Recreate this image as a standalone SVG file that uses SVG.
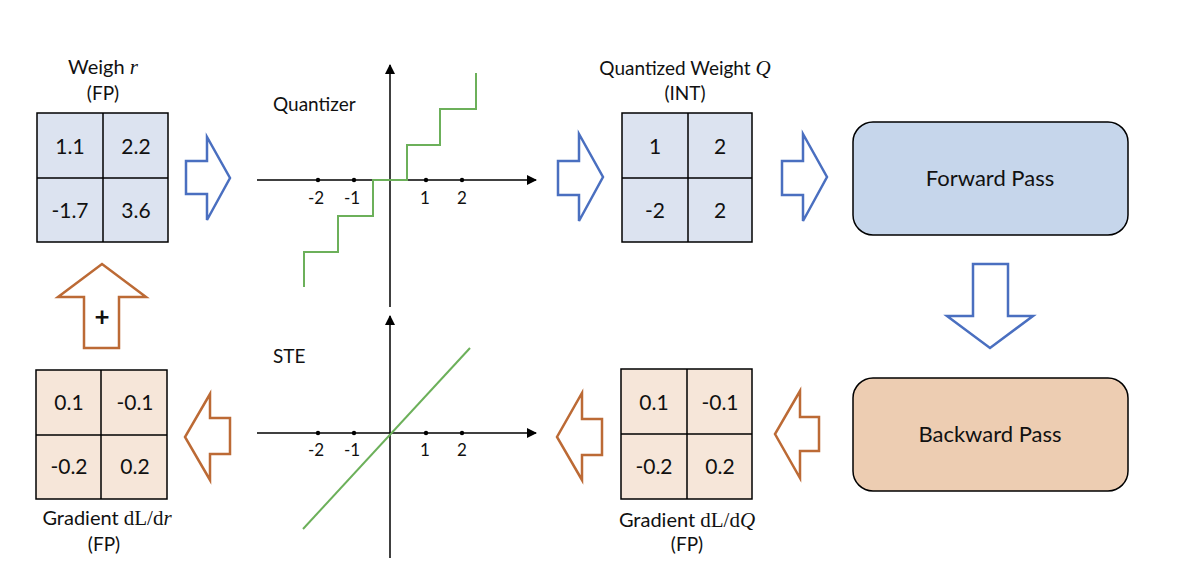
<svg xmlns="http://www.w3.org/2000/svg" width="1184" height="568" viewBox="0 0 1184 568">
<defs>
<marker id="ah" viewBox="0 0 10 10" refX="9" refY="5" markerWidth="10" markerHeight="10" markerUnits="userSpaceOnUse" orient="auto">
<path d="M0,0 L10,5 L0,10 Z" fill="#000"/>
</marker>
</defs>
<style>
text{font-family:Lato,"Liberation Sans",Arial,sans-serif;fill:#111;}
.t{font-size:19px;text-anchor:middle;}
.tg{font-size:20px;text-anchor:middle;}
.c{font-size:21px;text-anchor:middle;}
.ax{font-size:17px;text-anchor:middle;}
.lbl{font-size:19px;}
.box{font-size:22px;text-anchor:middle;}
.m{font-family:"Liberation Serif","DejaVu Serif",serif;font-size:21px;}
.i{font-family:"Liberation Serif","DejaVu Serif",serif;font-style:italic;font-size:21px;}
.blue{fill:#dce3f0;stroke:#000;stroke-width:1.5;}
.peach{fill:#f6e6d9;stroke:#000;stroke-width:1.5;}
.grid{stroke:#000;stroke-width:1.5;fill:none;}
.barr{fill:#fff;stroke:#4a6fc0;stroke-width:2.5;stroke-linejoin:miter;}
.oarr{fill:#fff;stroke:#bc6a35;stroke-width:2.5;stroke-linejoin:miter;}
.axis{stroke:#000;stroke-width:1.5;fill:none;}
.g{stroke:#6cb05a;stroke-width:2;fill:none;}
.dot{fill:#000;}
</style>
<rect width="1184" height="568" fill="#fff"/>

<g id="weight-r">
<text class="tg" x="103" y="74">Weigh <tspan class="i">r</tspan></text>
<text class="t" x="103" y="100">(FP)</text>
<rect class="blue" x="37" y="113" width="131" height="129"/>
<path class="grid" d="M103,113 V242 M37,178 H168"/>
<text class="c" x="70" y="154">1.1</text>
<text class="c" x="136" y="154">2.2</text>
<text class="c" x="70" y="218">-1.7</text>
<text class="c" x="136" y="218">3.6</text>
</g>

<g id="quantizer">
<text class="lbl" x="273" y="111">Quantizer</text>
<line class="axis" x1="257" y1="180" x2="536" y2="180" marker-end="url(#ah)"/>
<line class="axis" x1="390" y1="307" x2="390" y2="65" marker-end="url(#ah)"/>
<circle class="dot" cx="318" cy="180" r="2.2"/>
<circle class="dot" cx="354" cy="180" r="2.2"/>
<circle class="dot" cx="426" cy="180" r="2.2"/>
<circle class="dot" cx="462" cy="180" r="2.2"/>
<text class="ax" x="316" y="204">-2</text>
<text class="ax" x="352" y="204">-1</text>
<text class="ax" x="425" y="204">1</text>
<text class="ax" x="462" y="204">2</text>
<path class="g" d="M304,287 V252 H338 V216 H373 V180 H407 V145 H440 V109 H476 V73"/>
</g>

<g id="quantized-q">
<text class="t" x="685" y="75">Quantized Weight <tspan class="i">Q</tspan></text>
<text class="t" x="685" y="100">(INT)</text>
<rect class="blue" x="622" y="113" width="130" height="129"/>
<path class="grid" d="M688,113 V242 M622,178 H752"/>
<text class="c" x="655" y="154">1</text>
<text class="c" x="720" y="154">2</text>
<text class="c" x="655" y="218">-2</text>
<text class="c" x="720" y="218">2</text>
</g>

<g id="forward-pass">
<rect x="853" y="122" width="275" height="113" rx="20" ry="20" fill="#c6d6eb" stroke="#000" stroke-width="1.5"/>
<text class="box" x="990" y="186">Forward Pass</text>
</g>

<g id="backward-pass">
<rect x="853" y="378" width="275" height="113" rx="20" ry="20" fill="#edcdb2" stroke="#000" stroke-width="1.5"/>
<text class="box" x="990" y="442">Backward Pass</text>
</g>

<g id="grad-q">
<rect class="peach" x="621" y="369" width="131" height="130"/>
<path class="grid" d="M687,369 V499 M621,434 H752"/>
<text class="c" x="654" y="410">0.1</text>
<text class="c" x="720" y="410">-0.1</text>
<text class="c" x="654" y="474">-0.2</text>
<text class="c" x="720" y="474">0.2</text>
<text class="tg" x="687" y="527">Gradient <tspan class="m">dL/d</tspan><tspan class="i">Q</tspan></text>
<text class="t" x="687" y="551">(FP)</text>
</g>

<g id="ste">
<text class="lbl" x="273" y="363">STE</text>
<line class="axis" x1="257" y1="433" x2="536" y2="433" marker-end="url(#ah)"/>
<line class="axis" x1="390" y1="558" x2="390" y2="316" marker-end="url(#ah)"/>
<circle class="dot" cx="318" cy="433" r="2.2"/>
<circle class="dot" cx="354" cy="433" r="2.2"/>
<circle class="dot" cx="426" cy="433" r="2.2"/>
<circle class="dot" cx="462" cy="433" r="2.2"/>
<text class="ax" x="316" y="456">-2</text>
<text class="ax" x="352" y="456">-1</text>
<text class="ax" x="425" y="456">1</text>
<text class="ax" x="462" y="456">2</text>
<line class="g" x1="303" y1="529" x2="470" y2="348"/>
</g>

<g id="grad-r">
<rect class="peach" x="36" y="370" width="131" height="129"/>
<path class="grid" d="M101,370 V499 M36,435 H167"/>
<text class="c" x="69" y="410">0.1</text>
<text class="c" x="135" y="410">-0.1</text>
<text class="c" x="69" y="474">-0.2</text>
<text class="c" x="135" y="474">0.2</text>
<text class="tg" x="107" y="525">Gradient <tspan class="m">dL/d</tspan><tspan class="i">r</tspan></text>
<text class="t" x="104" y="551">(FP)</text>
</g>

<g id="connectors">
<polygon class="barr" points="186,161 207,161 207,137 230,178 207,220 207,194 186,194"/>
<polygon class="barr" points="558,161 579,161 579,134 603,177 579,221 579,195 558,195"/>
<polygon class="barr" points="782,161 803,161 803,134 827,177 803,221 803,195 782,195"/>
<polygon class="barr" points="973,264 1008,264 1008,316 1033,316 990,348 947,316 973,316"/>
<polygon class="oarr" points="819,417 800,417 800,391 775,434 800,478 800,451 819,451"/>
<polygon class="oarr" points="602,419 582,419 582,393 557,437 582,480 582,455 602,455"/>
<polygon class="oarr" points="230,418 210,418 210,394 185,437 210,480 210,454 230,454"/>
<polygon class="oarr" points="84,348 119,348 119,297 146,297 102,264 58,297 84,297"/>
<text x="102" y="326" style="font-size:26px;font-weight:bold;text-anchor:middle">+</text>
</g>
</svg>
